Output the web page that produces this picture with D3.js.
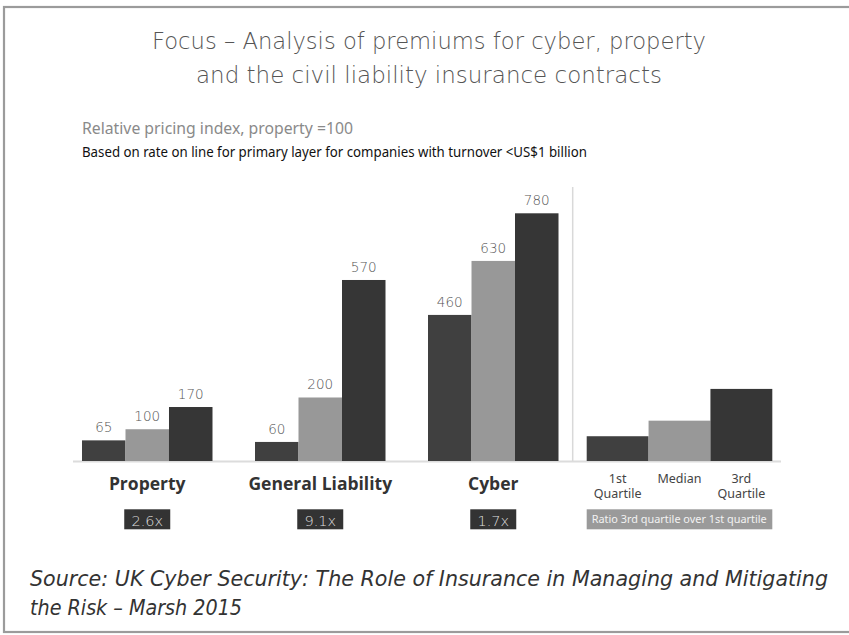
<!DOCTYPE html>
<html>
<head>
<meta charset="utf-8">
<script src="https://cdn.jsdelivr.net/npm/d3@7"></script>
<style>
  body { margin: 0; background: #fff; }
  svg { display: block; }
</style>
</head>
<body>
<div id="chart"></div>
<script>
// Relative pricing index, property = 100
const categories = ["Property", "General Liability", "Cyber"];
const quartiles = ["1st Quartile", "Median", "3rd Quartile"];
const q1Values = [65, 60, 460];
const medianValues = [100, 200, 630];
const q3Values = [170, 570, 780];
const ratioLabels = ["2.6x", "9.1x", "1.7x"];
// illustrative key bars on the right
const keyValues = [78, 127, 227];

const width = 849;
const height = 635;
const baseY = 461;

const svg = d3.select("#chart").append("svg")
    .attr("width", width)
    .attr("height", height);

// Frame
svg.append("rect")
    .attr("x", 4).attr("y", 7)
    .attr("width", 860).attr("height", 625)
    .attr("fill", "none")
    .attr("stroke", "#9b9b9b")
    .attr("stroke-width", 2.2);

// Title
const titleFont = "'DejaVu Sans', sans-serif";
[["Focus – Analysis of premiums for cyber, property", 48.5, 554],
 ["and the civil liability insurance contracts", 83, 466]].forEach(([t, y, w]) => {
    svg.append("text")
        .attr("x", 429).attr("y", y)
        .attr("text-anchor", "middle")
        .attr("textLength", w)
        .attr("lengthAdjust", "spacingAndGlyphs")
        .style("font-family", titleFont)
        .style("font-weight", 200)
        .style("font-size", "23px")
        .attr("fill", "#555")
        .text(t);
});

// Subtitles
svg.append("text")
    .attr("x", 82).attr("y", 134)
    .attr("textLength", 271)
    .attr("lengthAdjust", "spacingAndGlyphs")
    .style("font-family", "'Noto Sans', sans-serif")
    .style("font-size", "15.5px")
    .attr("fill", "#8a8a8a")
    .text("Relative pricing index, property =100");

svg.append("text")
    .attr("x", 82).attr("y", 156.5)
    .attr("textLength", 505)
    .attr("lengthAdjust", "spacingAndGlyphs")
    .style("font-family", "'Noto Sans', sans-serif")
    .style("font-size", "13.5px")
    .attr("fill", "#111")
    .text("Based on rate on line for primary layer for companies with turnover <US$1 billion");

// Scales
const x0 = d3.scaleBand()
    .domain(categories)
    .range([60.75, 579.75])
    .paddingInner(0.2457)
    .paddingOuter(0.1228);

const x1 = d3.scaleBand()
    .domain(quartiles)
    .range([0, x0.bandwidth()]);

const y = d3.scaleLinear()
    .domain([0, 780])
    .range([baseY, 213.3]);

const colors = d3.scaleOrdinal()
    .domain(quartiles)
    .range(["#404040", "#989898", "#363636"]);

const numFont = "'DejaVu Sans', sans-serif";

const rows = categories.map((c, i) => ({
    category: c,
    ratio: ratioLabels[i],
    values: [q1Values[i], medianValues[i], q3Values[i]]
        .map((v, j) => ({ key: quartiles[j], value: v }))
}));

// Baseline
svg.append("line")
    .attr("x1", 73).attr("x2", 781)
    .attr("y1", baseY + 0.5).attr("y2", baseY + 0.5)
    .attr("stroke", "#dcdcdc")
    .attr("stroke-width", 2);

// Divider
svg.append("line")
    .attr("x1", 572.7).attr("x2", 572.7)
    .attr("y1", 187).attr("y2", baseY)
    .attr("stroke", "#d9d9d9")
    .attr("stroke-width", 1.5);

const groups = svg.selectAll(".group")
    .data(rows)
    .join("g")
    .attr("class", "group")
    .attr("transform", d => `translate(${x0(d.category)},0)`);

groups.selectAll("rect")
    .data(d => d.values)
    .join("rect")
    .attr("x", d => x1(d.key))
    .attr("y", d => y(d.value))
    .attr("width", x1.bandwidth())
    .attr("height", d => baseY - y(d.value))
    .attr("fill", d => colors(d.key));

groups.selectAll(".val")
    .data(d => d.values)
    .join("text")
    .attr("class", "val")
    .attr("x", d => x1(d.key) + x1.bandwidth() / 2)
    .attr("y", d => y(d.value) - 8)
    .attr("text-anchor", "middle")
    .style("font-family", numFont)
    .style("font-weight", 200)
    .style("font-size", "13.5px")
    .attr("fill", "#555")
    .text(d => d.value);

// Category labels
groups.append("text")
    .attr("x", x0.bandwidth() / 2)
    .attr("y", 490)
    .attr("text-anchor", "middle")
    .style("font-family", "'Open Sans', sans-serif")
    .style("font-weight", 700)
    .style("font-size", "17.5px")
    .attr("fill", "#333")
    .text(d => d.category);

// Ratio boxes
groups.append("rect")
    .attr("x", x0.bandwidth() / 2 - 23)
    .attr("y", 509.3)
    .attr("width", 46)
    .attr("height", 20)
    .attr("fill", "#333");

groups.append("text")
    .attr("x", x0.bandwidth() / 2)
    .attr("y", 525.5)
    .attr("text-anchor", "middle")
    .style("font-family", numFont)
    .style("font-weight", 200)
    .style("font-size", "14.5px")
    .attr("fill", "#dedede")
    .text(d => d.ratio);

// Key on the right
const xk = d3.scaleBand()
    .domain(quartiles)
    .range([586.7, 772.3]);

const key = svg.append("g");

key.selectAll("rect")
    .data(quartiles.map((q, i) => ({ key: q, value: keyValues[i] })))
    .join("rect")
    .attr("x", d => xk(d.key))
    .attr("y", d => y(d.value))
    .attr("width", xk.bandwidth())
    .attr("height", d => baseY - y(d.value))
    .attr("fill", d => colors(d.key));

key.selectAll(".klabel")
    .data(quartiles)
    .join("text")
    .attr("class", "klabel")
    .attr("x", d => xk(d) + xk.bandwidth() / 2)
    .attr("y", 483)
    .attr("text-anchor", "middle")
    .style("font-family", "'Noto Sans', sans-serif")
    .style("font-size", "12.5px")
    .attr("fill", "#444")
    .each(function(d) {
        const parts = d === "Median" ? ["Median"] : d.split(" ");
        d3.select(this).selectAll("tspan")
            .data(parts)
            .join("tspan")
            .attr("x", xk(d) + xk.bandwidth() / 2)
            .attr("dy", (p, i) => i === 0 ? 0 : 14.5)
            .text(p => p);
    });

key.append("rect")
    .attr("x", xk.range()[0])
    .attr("y", 509.3)
    .attr("width", xk.range()[1] - xk.range()[0])
    .attr("height", 20)
    .attr("fill", "#9a9a9a");

key.append("text")
    .attr("x", 591.7)
    .attr("y", 523.3)
    .attr("textLength", 175)
    .attr("lengthAdjust", "spacingAndGlyphs")
    .style("font-family", "'Noto Sans', sans-serif")
    .style("font-size", "11px")
    .attr("fill", "#f2f2f2")
    .text("Ratio 3rd quartile over 1st quartile");

// Source
[["Source: UK Cyber Security: The Role of Insurance in Managing and Mitigating", 586, 798],
 ["the Risk – Marsh 2015", 614.5, 212]].forEach(([t, yy, w]) => {
    svg.append("text")
        .attr("x", 30).attr("y", yy)
        .attr("textLength", w)
        .attr("lengthAdjust", "spacingAndGlyphs")
        .style("font-family", "'DejaVu Sans', sans-serif")
        .style("font-style", "italic")
        .style("font-weight", 200)
        .style("font-size", "21px")
        .attr("fill", "#333")
        .text(t);
});
</script>
</body>
</html>
